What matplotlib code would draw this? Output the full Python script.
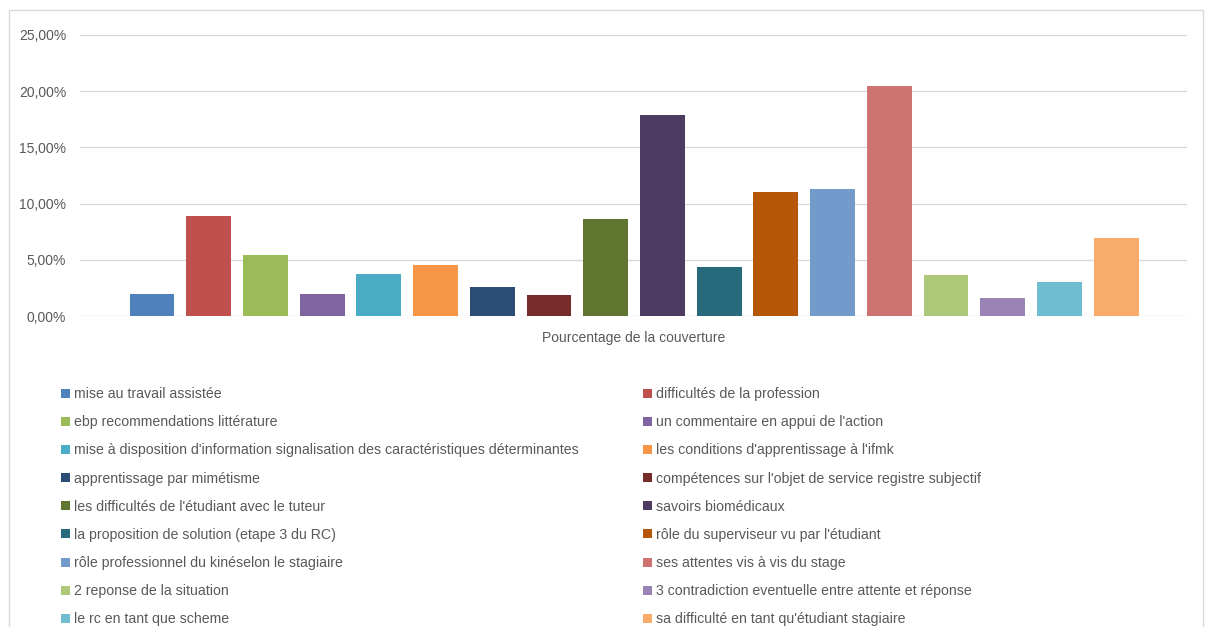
import matplotlib
matplotlib.use("Agg")
import matplotlib.pyplot as plt
from matplotlib.patches import Rectangle, Patch
from matplotlib.ticker import FuncFormatter

categories = [
    "mise au travail assistée",
    "difficultés de la profession",
    "ebp recommendations littérature",
    "un commentaire en appui de l'action",
    "mise à disposition d'information signalisation des caractéristiques déterminantes",
    "les conditions d'apprentissage à l'ifmk",
    "apprentissage par mimétisme",
    "compétences sur l'objet de service registre subjectif",
    "les difficultés de l'étudiant avec le tuteur",
    "savoirs biomédicaux",
    "la proposition de solution (etape 3 du RC)",
    "rôle du superviseur vu par l'étudiant",
    "rôle professionnel du kinéselon le stagiaire",
    "ses attentes vis à vis du stage",
    "2 reponse de la situation",
    "3 contradiction eventuelle entre attente et réponse",
    "le rc en tant que scheme",
    "sa difficulté en tant qu'étudiant stagiaire",
]
values = [0.0193, 0.0887, 0.0540, 0.0193, 0.0371, 0.0457, 0.0255, 0.0187, 0.0860,
          0.1786, 0.0433, 0.1103, 0.1130, 0.2044, 0.0362, 0.0160, 0.0302, 0.0697]
colors = ["#4F81BD", "#C0504D", "#9BBB59", "#8064A2", "#4BACC6", "#F79646",
          "#2C4D75", "#772C2A", "#5F7530", "#4D3B62", "#276A7C", "#B65708",
          "#729ACA", "#CD7371", "#AFC97A", "#9983B5", "#6FBDD1", "#F9AB6B"]
y_ticks = [0.0, 0.05, 0.10, 0.15, 0.20, 0.25]
xlabel = "Pourcentage de la couverture"

plt.rcParams['font.family'] = ['Liberation Sans', 'DejaVu Sans']
W, H = 1206, 627
fig = plt.figure(figsize=(W / 100, H / 100), dpi=100)
fig.patch.set_facecolor("white")

# chart border
fig.add_artist(Rectangle((9 / W, -0.05), (1203 - 9) / W, 1 - 10 / H + 0.05,
                         transform=fig.transFigure, fill=False,
                         edgecolor="#d9d9d9", linewidth=1.0))

ax = fig.add_axes([80 / W, 1 - 316 / H, (1187 - 80) / W, (316 - 35) / H])
xs = list(range(len(values)))
bars = ax.bar(xs, values, width=0.79, color=colors, zorder=3)
ax.set_xlim(-1.27, 18.25)
ax.set_ylim(0, 0.25)
ax.set_yticks(y_ticks)
ax.yaxis.set_major_formatter(FuncFormatter(lambda v, p: f"{v*100:.2f}%".replace(".", ",")))
ax.tick_params(axis="y", length=0, pad=10, labelsize=10, labelcolor="#595959")
ax.set_xticks([])
ax.grid(axis="y", color="#d9d9d9", linewidth=1.0, zorder=0)
for s in ax.spines.values():
    s.set_visible(False)
ax.set_xlabel(xlabel, fontsize=10, color="#595959", labelpad=11)

handles = [Patch(facecolor=c) for c in colors]
left_idx = list(range(0, 18, 2))
right_idx = list(range(1, 18, 2))
common = dict(frameon=False, fontsize=10.2, handlelength=0.6, handleheight=0.6,
              handletextpad=0.35, labelspacing=1.0, borderaxespad=0, borderpad=0,
              labelcolor="#595959", loc="upper left")
leg1 = fig.legend([handles[i] for i in left_idx], [categories[i] for i in left_idx],
                  bbox_to_anchor=(61 / W, 1 - 387 / H), **common)
leg2 = fig.legend([handles[i] for i in right_idx], [categories[i] for i in right_idx],
                  bbox_to_anchor=(643 / W, 1 - 387 / H), **common)

fig.savefig("out.png", dpi=100, facecolor="white")
